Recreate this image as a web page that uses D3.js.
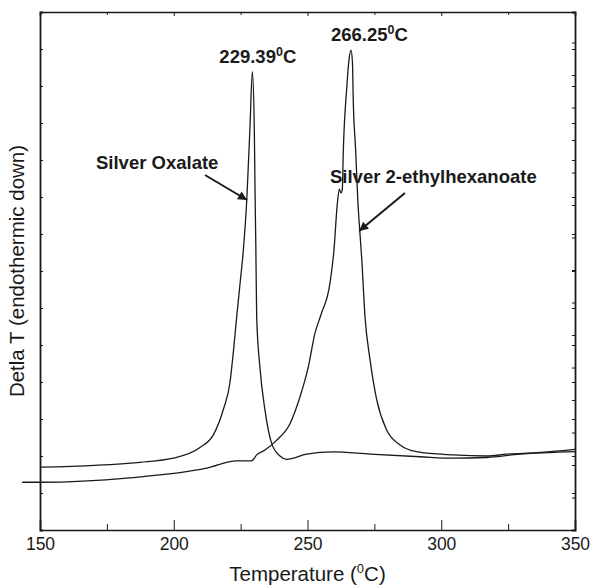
<!DOCTYPE html>
<meta charset="utf-8">
<style>
body { margin: 0; background: #fff; }
text { font-family: 'Liberation Sans', Arial, sans-serif; fill: #1a1a1a; }
.tick text { font-size: 17.5px; }
.axis path, .axis line { stroke: #1a1a1a; }
.curve { fill: none; stroke: #1a1a1a; stroke-width: 1.3px; }
.note { font-size: 18.5px; font-weight: bold; }
.title { font-size: 20.5px; }
</style>
<body>
<script src="https://d3js.org/d3.v7.min.js"></script>
<script>
// temperatures (°C) and DSC signal (arbitrary units)
const oxalateTemp = [150, 187.4, 199.7, 209.8, 214.8, 218.5, 221.0, 222.3, 223.5, 224.8, 226.0, 227.3, 228.5, 229.39,
                     230.1, 230.4, 230.7, 231.0, 232.2, 234.1, 236.6, 239.7, 242.2, 249.7, 259.5, 273.4, 292.1, 304.5, 317.0, 329.4, 350];
const oxalateVal  = [1.70, 1.83, 1.94, 2.23, 2.57, 3.25, 3.98, 4.82, 5.74, 6.67, 7.55, 8.92, 10.9, 12.39,
                     10.9, 9.11, 7.57, 5.76, 4.41, 3.24, 2.34, 2.00, 1.91, 2.05, 2.11, 2.05, 1.98, 1.94, 1.96, 2.05, 2.12];

const ethylTemp = [143.3, 150, 183.6, 212.3, 223.5, 229.1, 231.0, 234.1, 238.5, 243.5, 247.2, 250.3, 252.8, 255.0, 258.4,
                   259.9, 261.1, 261.9, 262.5, 263.0, 263.4, 264.7, 265.5, 266.25, 266.8, 267.1, 268.0, 268.8, 269.6, 270.3,
                   271.5, 273.4, 275.9, 279.6, 284.6, 290.8, 304.5, 317.0, 324.5, 335.7, 350];
const ethylVal  = [1.29, 1.29, 1.41, 1.67, 1.87, 1.87, 2.03, 2.16, 2.43, 2.88, 3.60, 4.41, 5.32, 5.81, 6.67,
                   7.57, 8.78, 9.21, 9.11, 9.19, 10.27, 11.98, 12.70, 12.97, 12.65, 11.62, 10.27, 8.92, 8.03, 7.30,
                   5.76, 4.59, 3.51, 2.70, 2.30, 2.12, 2.03, 2.00, 2.05, 2.09, 2.18];

const majorTicks = [150, 200, 250, 300, 350];
const minorTicks = [175, 225, 275, 325];
const peakLabels = [{t: 229.39, v: 12.39, text: "229.39"}, {t: 266.25, v: 12.97, text: "266.25"}];

const width = 590, height = 587;
const margin = {top: 12, right: 15, bottom: 57, left: 40};

const svg = d3.select("body").append("svg")
    .attr("width", width)
    .attr("height", height);

const x = d3.scaleLinear().domain([150, 350]).range([margin.left, width - margin.right]);
const y = d3.scaleLinear().domain([0, 14]).range([height - margin.bottom, margin.top]);
// second set of ticks on the right frame
const y2 = d3.scaleLinear().domain([0, 15.94]).range([height - margin.bottom, margin.top]);

const line = d3.line()
    .x(d => x(d[0]))
    .y(d => y(d[1]))
    .curve(d3.curveMonotoneX);

// bottom axis: labelled majors + minors, ticks pointing in
svg.append("g")
    .attr("class", "axis")
    .attr("transform", `translate(0,${y(0)})`)
    .call(d3.axisBottom(x).tickValues(majorTicks).tickSize(-10).tickFormat(d3.format("d")))
    .call(g => g.select(".domain").attr("stroke-width", 1.6))
    .call(g => g.selectAll(".tick text").attr("dy", "0.71em").attr("y", 7.5));
svg.append("g")
    .attr("class", "axis")
    .attr("transform", `translate(0,${y(0)})`)
    .call(d3.axisBottom(x).tickValues(minorTicks).tickSize(-6).tickFormat(""))
    .call(g => g.select(".domain").remove());

// top axis
svg.append("g")
    .attr("class", "axis")
    .attr("transform", `translate(0,${margin.top})`)
    .call(d3.axisTop(x).tickValues(majorTicks).tickSize(-4).tickFormat(""))
    .call(g => g.select(".domain").attr("stroke", "#666").attr("stroke-width", 1.5));
svg.append("g")
    .attr("class", "axis")
    .attr("transform", `translate(0,${margin.top})`)
    .call(d3.axisTop(x).tickValues(minorTicks).tickSize(-3).tickFormat(""))
    .call(g => g.select(".domain").remove());

// left axis, no labels
svg.append("g")
    .attr("class", "axis")
    .attr("transform", `translate(${margin.left},0)`)
    .call(d3.axisLeft(y).ticks(14).tickSize(-3).tickFormat(""))
    .call(g => g.select(".domain").attr("stroke-width", 1.8));

// right axis, two tick sets
svg.append("g")
    .attr("class", "axis")
    .attr("transform", `translate(${width - margin.right},0)`)
    .call(d3.axisRight(y).ticks(14).tickSize(-3).tickFormat(""))
    .call(g => g.select(".domain").attr("stroke-width", 1.8));
svg.append("g")
    .attr("class", "axis")
    .attr("transform", `translate(${width - margin.right},0)`)
    .call(d3.axisRight(y2).ticks(16).tickSize(-3).tickFormat(""))
    .call(g => g.select(".domain").remove());

// curves
svg.append("path")
    .attr("class", "curve")
    .attr("d", line(d3.zip(oxalateTemp, oxalateVal)));
svg.append("path")
    .attr("class", "curve")
    .attr("d", line(d3.zip(ethylTemp, ethylVal)));

// peak labels (set a little right of the peak, as in the original)
const labelShift = [-33, -20];
peakLabels.forEach((p, i) => {
    const t = svg.append("text")
        .attr("class", "note")
        .attr("x", x(p.t) + labelShift[i])
        .attr("y", y(p.v) - 9);
    t.append("tspan").text(p.text);
    t.append("tspan").attr("dy", -7).attr("font-size", "12.5px").text("0");
    t.append("tspan").attr("dy", 7).text("C");
});

// series labels with arrows
const defs = svg.append("defs");
defs.append("marker")
    .attr("id", "head")
    .attr("viewBox", "0 0 10 10")
    .attr("refX", 10).attr("refY", 5)
    .attr("markerWidth", 6.5).attr("markerHeight", 4.5)
    .attr("markerUnits", "strokeWidth")
    .attr("orient", "auto")
  .append("path")
    .attr("d", "M0,0L10,5L0,10z")
    .attr("fill", "#1a1a1a");

svg.append("text")
    .attr("class", "note")
    .attr("x", 96).attr("y", 169)
    .text("Silver Oxalate");
svg.append("line")
    .attr("x1", 205).attr("y1", 175)
    .attr("x2", x(227.4)).attr("y2", 200)
    .attr("stroke", "#1a1a1a").attr("stroke-width", 2)
    .attr("marker-end", "url(#head)");

svg.append("text")
    .attr("class", "note")
    .attr("x", 330).attr("y", 183)
    .text("Silver 2-ethylhexanoate");
svg.append("line")
    .attr("x1", 405).attr("y1", 193)
    .attr("x2", x(269.3)).attr("y2", 231)
    .attr("stroke", "#1a1a1a").attr("stroke-width", 2)
    .attr("marker-end", "url(#head)");

// axis titles
const xt = svg.append("text")
    .attr("class", "title")
    .attr("x", (margin.left + width - margin.right) / 2)
    .attr("y", 581)
    .attr("text-anchor", "middle");
xt.append("tspan").text("Temperature (");
xt.append("tspan").attr("dy", -8).attr("font-size", "13px").text("0");
xt.append("tspan").attr("dy", 8).text("C)");

svg.append("text")
    .attr("class", "title")
    .attr("transform", `translate(24,${(margin.top + height - margin.bottom) / 2}) rotate(-90)`)
    .attr("text-anchor", "middle")
    .text("Detla T (endothermic down)");
</script>
